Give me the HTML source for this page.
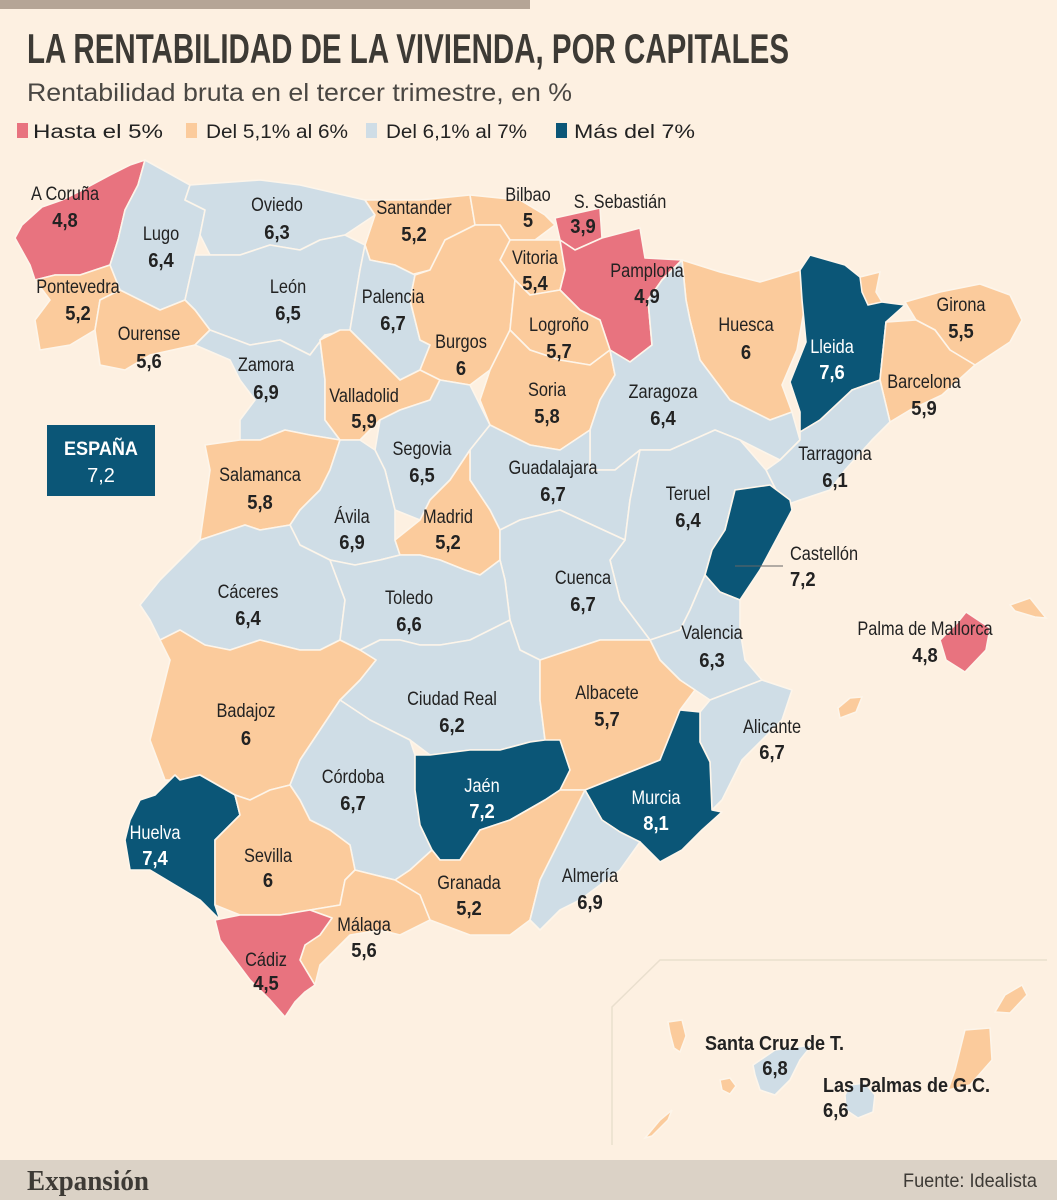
<!DOCTYPE html>
<html><head><meta charset="utf-8">
<style>
html,body{margin:0;padding:0;background:#fdf0e1;}
svg{display:block;}
.nm{font-family:"Liberation Sans Narrow","Liberation Sans",sans-serif;font-size:19px;fill:#222;}
.vl{font-family:"Liberation Sans Narrow","Liberation Sans",sans-serif;font-size:20px;font-weight:bold;fill:#222;}
</style></head>
<body>
<svg id="chart" width="1057" height="1200" viewBox="0 0 1057 1200" xmlns="http://www.w3.org/2000/svg">
<rect x="0" y="0" width="1057" height="1200" fill="#fdf0e1"/>
<rect x="0" y="0" width="530" height="9" fill="#b5a596"/>
<text x="27" y="63" textLength="762" lengthAdjust="spacingAndGlyphs" font-family="'Liberation Sans Narrow','Liberation Sans',sans-serif" font-weight="bold" font-size="42" fill="#3d3a35">LA RENTABILIDAD DE LA VIVIENDA, POR CAPITALES</text>
<text x="27" y="101" textLength="545" lengthAdjust="spacingAndGlyphs" font-family="'Liberation Sans Narrow','Liberation Sans',sans-serif" font-size="25" fill="#4a4743">Rentabilidad bruta en el tercer trimestre, en %</text>
<g id="legend"></g>
<g id="map"></g>
<g id="labels"></g>
<path d="M612,1145 L612,1007 L660,960 L1047,960" fill="none" stroke="#eadfce" stroke-width="1.5"/>
<rect x="47" y="425" width="108" height="71" fill="#0b5677"/>
<text x="101" y="455" text-anchor="middle" textLength="74" lengthAdjust="spacingAndGlyphs" font-family="'Liberation Sans Narrow','Liberation Sans',sans-serif" font-weight="bold" font-size="19" fill="#fff">ESPAÑA</text>
<text x="101" y="482" text-anchor="middle" font-family="'Liberation Sans Narrow','Liberation Sans',sans-serif" font-size="20" fill="#fff">7,2</text>
<line x1="735" y1="566" x2="783" y2="566" stroke="#666" stroke-width="1"/>
<rect x="0" y="1160" width="1057" height="40" fill="#dbd2c6"/>
<text x="27" y="1190" textLength="122" lengthAdjust="spacingAndGlyphs" font-family="'Liberation Serif',serif" font-weight="bold" font-size="28" fill="#3d3a35">Expansión</text>
<text x="1037" y="1187" text-anchor="end" textLength="134" lengthAdjust="spacingAndGlyphs" font-family="'Liberation Sans Narrow','Liberation Sans',sans-serif" font-size="19" fill="#3d3a35">Fuente: Idealista</text>
</svg>
<script>
const categories = ["A Coruña","Lugo","Oviedo","Santander","Bilbao","S. Sebastián","Vitoria","Pamplona","Pontevedra","León","Palencia","Ourense","Burgos","Logroño","Huesca","Lleida","Girona","Zamora","Barcelona","Valladolid","Soria","Zaragoza","Segovia","Guadalajara","Salamanca","Tarragona","Teruel","Ávila","Madrid","Castellón","Cuenca","Cáceres","Toledo","Valencia","Palma de Mallorca","Ciudad Real","Albacete","Alicante","Badajoz","Córdoba","Jaén","Murcia","Huelva","Sevilla","Granada","Almería","Málaga","Cádiz","Santa Cruz de T.","Las Palmas de G.C."];
const values = [4.8,6.4,6.3,5.2,5,3.9,5.4,4.9,5.2,6.5,6.7,5.6,6,5.7,6,7.6,5.5,6.9,5.9,5.9,5.8,6.4,6.5,6.7,5.8,6.1,6.4,6.9,5.2,7.2,6.7,6.4,6.6,6.3,4.8,6.2,5.7,6.7,6,6.7,7.2,8.1,7.4,6,5.2,6.9,5.6,4.5,6.8,6.6];
const legendLabels = ["Hasta el 5%","Del 5,1% al 6%","Del 6,1% al 7%","Más del 7%"];
const thresholds = [4.95,6,7];
const palette = ["#e8737f","#fbcb9c","#cfdde6","#0b5677"];

function colorIdx(v){let i=0;while(i<thresholds.length&&v>thresholds[i]+1e-9)i++;return i;}
function fmt(v){return String(v).replace('.',',');}

const shapes = {
"A Coruña":[[145,160],[138,185],[125,210],[118,240],[110,265],[80,275],[55,275],[35,280],[30,265],[15,238],[22,225],[42,207],[62,200],[82,190],[110,175],[130,165]],
"Lugo":[[145,160],[190,185],[185,200],[205,210],[200,235],[195,255],[185,300],[160,310],[120,290],[110,265],[118,240],[125,210],[138,185]],
"Pontevedra":[[35,280],[55,275],[80,275],[110,265],[120,290],[100,300],[95,330],[70,345],[40,350],[35,320],[50,300]],
"Ourense":[[120,290],[160,310],[185,300],[195,310],[210,330],[195,345],[150,355],[125,370],[100,365],[95,330],[100,300]],
"Oviedo":[[190,185],[260,180],[300,185],[365,200],[375,215],[345,235],[320,240],[300,250],[270,245],[240,255],[210,255],[200,235],[205,210],[185,200]],
"León":[[210,255],[240,255],[270,245],[300,250],[320,240],[345,235],[365,245],[360,270],[355,300],[350,330],[325,335],[310,355],[280,340],[250,345],[210,330],[195,310],[185,300],[195,255]],
"Santander":[[365,200],[420,200],[470,195],[475,225],[445,240],[430,270],[410,275],[395,265],[370,260],[365,245],[375,215]],
"Palencia":[[370,260],[395,265],[415,275],[410,300],[420,340],[430,345],[420,370],[400,380],[380,360],[360,340],[350,330],[355,300],[360,270],[365,245]],
"Burgos":[[430,270],[445,240],[475,225],[500,225],[510,240],[500,260],[515,280],[510,330],[490,370],[470,385],[440,380],[420,370],[430,345],[420,340],[410,300],[415,275]],
"Bilbao":[[470,195],[520,200],[545,215],[555,225],[535,240],[510,240],[500,225],[475,225]],
"S. Sebastián":[[555,218],[600,208],[602,238],[575,250],[560,240]],
"Vitoria":[[510,240],[535,240],[560,240],[565,270],[560,290],[530,295],[515,280],[500,260]],
"Pamplona":[[560,240],[575,250],[602,238],[640,228],[645,258],[682,260],[662,280],[648,300],[652,345],[630,362],[610,350],[600,320],[580,310],[560,290],[565,270]],
"Logroño":[[515,280],[530,295],[560,290],[580,310],[600,320],[610,350],[590,365],[560,360],[530,350],[510,330]],
"Soria":[[490,370],[510,330],[530,350],[560,360],[590,365],[610,350],[615,375],[600,400],[590,430],[560,450],[530,445],[490,425],[480,400]],
"Zaragoza":[[610,350],[630,362],[652,345],[648,300],[662,280],[682,260],[686,300],[690,320],[700,360],[730,400],[770,420],[792,412],[800,440],[780,460],[740,440],[715,430],[670,450],[640,450],[615,470],[590,470],[590,430],[600,400],[615,375]],
"Huesca":[[682,260],[720,272],[760,282],[800,270],[806,300],[797,350],[782,385],[792,412],[770,420],[730,400],[700,360],[690,320],[686,300]],
"Lleida":[[810,255],[845,265],[860,277],[880,272],[876,292],[882,302],[905,305],[886,322],[882,360],[880,380],[852,390],[830,415],[820,420],[800,432],[800,412],[790,382],[806,342],[802,300],[800,270]],
"Girona":[[905,302],[940,292],[980,284],[1010,295],[1022,320],[1010,342],[975,365],[950,350],[935,330],[916,320]],
"Barcelona":[[886,322],[916,320],[935,330],[950,350],[975,365],[942,395],[910,410],[890,422],[880,380],[882,360]],
"Tarragona":[[820,420],[852,390],[880,380],[890,422],[872,440],[845,470],[830,490],[800,500],[772,510],[776,490],[766,470],[780,460],[800,440],[800,432]],
"Castellón":[[735,490],[770,485],[790,500],[792,510],[776,540],[760,570],[740,600],[720,592],[705,575],[712,550],[725,530],[730,510]],
"Valencia":[[705,575],[720,592],[740,600],[740,630],[745,660],[762,680],[736,690],[710,700],[695,690],[680,680],[660,660],[650,640],[680,630],[690,610]],
"Alicante":[[762,680],[792,690],[782,720],[742,760],[722,800],[712,810],[710,762],[700,742],[700,712],[710,700],[736,690]],
"Murcia":[[680,710],[700,712],[700,742],[710,762],[712,810],[722,812],[702,830],[682,850],[660,862],[640,842],[620,832],[602,820],[585,790],[610,780],[635,770],[660,760]],
"Albacete":[[540,660],[600,640],[650,640],[660,660],[680,680],[695,690],[680,710],[660,760],[635,770],[610,780],[585,790],[560,790],[560,760],[545,740],[540,700]],
"Teruel":[[640,450],[670,450],[715,430],[740,440],[766,470],[776,490],[770,485],[735,490],[730,510],[725,530],[712,550],[705,575],[690,610],[680,630],[650,640],[620,600],[610,560],[625,540],[630,500]],
"Guadalajara":[[490,425],[530,445],[560,450],[590,430],[590,470],[615,470],[640,450],[630,500],[625,540],[560,510],[520,520],[500,530],[490,510],[470,480],[470,450]],
"Cuenca":[[520,520],[560,510],[625,540],[610,560],[620,600],[650,640],[600,640],[540,660],[520,650],[510,620],[505,580],[500,560],[500,530]],
"Madrid":[[450,480],[470,450],[470,480],[490,510],[500,530],[500,560],[480,575],[465,570],[440,560],[420,555],[400,555],[395,540],[420,520],[430,500]],
"Segovia":[[380,420],[400,410],[430,400],[440,380],[470,385],[490,425],[470,450],[450,480],[430,500],[420,520],[395,510],[385,470],[375,450]],
"Valladolid":[[320,340],[340,330],[350,330],[360,340],[380,360],[400,380],[420,370],[440,380],[430,400],[400,410],[380,420],[360,440],[340,440],[325,420],[325,380]],
"Zamora":[[210,330],[250,345],[280,340],[310,355],[325,335],[320,340],[325,380],[325,420],[340,440],[310,435],[285,430],[260,440],[240,440],[240,420],[255,400],[240,380],[230,360],[195,345]],
"Salamanca":[[205,445],[240,440],[260,440],[285,430],[310,435],[340,440],[330,470],[320,490],[300,510],[290,525],[260,530],[245,525],[200,540],[205,505],[210,470]],
"Ávila":[[340,440],[360,440],[375,450],[385,470],[395,510],[395,540],[400,555],[380,560],[355,565],[330,560],[300,545],[290,525],[300,510],[320,490],[330,470]],
"Cáceres":[[200,540],[245,525],[260,530],[290,525],[300,545],[330,560],[345,600],[340,640],[320,650],[300,650],[260,640],[230,650],[205,645],[180,630],[160,640],[150,620],[140,605],[160,580],[185,555]],
"Toledo":[[330,560],[355,565],[380,560],[400,555],[420,555],[440,560],[465,570],[480,575],[500,560],[505,580],[510,620],[490,630],[470,640],[440,645],[420,645],[400,640],[380,640],[360,650],[340,640],[345,600]],
"Badajoz":[[160,640],[180,630],[205,645],[230,650],[260,640],[300,650],[320,650],[340,640],[360,650],[376,660],[360,680],[340,700],[320,730],[300,760],[290,785],[270,790],[250,800],[235,795],[200,775],[180,780],[165,780],[150,740],[160,700],[170,660]],
"Ciudad Real":[[360,650],[380,640],[400,640],[420,645],[440,645],[470,640],[490,630],[510,620],[520,650],[540,660],[540,700],[545,740],[530,742],[500,750],[470,750],[430,755],[410,740],[390,730],[370,720],[340,700],[360,680],[376,660]],
"Córdoba":[[290,785],[300,760],[320,730],[340,700],[370,720],[390,730],[410,740],[415,755],[415,790],[420,825],[432,850],[410,870],[395,880],[375,875],[355,870],[350,845],[330,830],[310,820],[300,800]],
"Jaén":[[415,755],[430,755],[470,750],[500,750],[530,742],[545,740],[560,740],[570,770],[560,790],[545,800],[510,820],[480,830],[460,860],[440,860],[432,850],[420,825],[415,790]],
"Huelva":[[175,775],[180,780],[200,775],[235,795],[240,815],[225,830],[215,840],[215,880],[215,905],[220,920],[200,900],[175,885],[150,870],[130,870],[125,840],[130,820],[140,800],[155,795]],
"Sevilla":[[235,795],[250,800],[270,790],[290,785],[300,800],[310,820],[330,830],[350,845],[355,870],[345,880],[340,905],[310,910],[280,915],[240,915],[215,905],[215,880],[215,840],[225,830],[240,815]],
"Cádiz":[[215,920],[240,915],[280,915],[310,910],[332,918],[320,935],[305,945],[300,960],[315,985],[305,992],[295,1002],[285,1017],[270,1000],[250,980],[235,960],[220,940]],
"Málaga":[[310,910],[340,905],[345,880],[355,870],[375,875],[395,880],[420,895],[430,920],[400,935],[380,930],[350,935],[320,965],[315,985],[300,960],[305,945],[320,935],[332,918]],
"Granada":[[420,895],[395,880],[410,870],[432,850],[440,860],[460,860],[480,830],[510,820],[545,800],[560,790],[585,790],[570,820],[555,850],[540,880],[530,920],[510,935],[470,935],[430,920]],
"Almería":[[585,790],[602,820],[620,832],[640,842],[620,870],[600,885],[580,900],[560,910],[540,930],[530,920],[540,880],[555,850],[570,820]],
"Palma de Mallorca":[[940,640],[958,622],[966,612],[990,628],[986,650],[965,672],[946,660]],
"Santa Cruz de T.":[[753,1065],[775,1050],[812,1045],[800,1060],[790,1080],[775,1095],[760,1090],[755,1075]],
"Las Palmas de G.C.":[[850,1085],[865,1083],[875,1095],[873,1112],[858,1118],[846,1110],[845,1095]]
};
const extraShapes = [
 {n:"menorca-island",c:1,p:[[1010,605],[1030,598],[1046,618],[1035,617],[1015,611]]},
 {n:"ibiza-island",c:1,p:[[838,708],[850,698],[862,697],[856,712],[840,718]]},
 {n:"aran-area",c:1,p:[[860,277],[880,272],[876,292],[882,302],[868,305],[862,292]]},
 {n:"la-palma-island",c:1,p:[[668,1022],[682,1020],[686,1036],[680,1052],[674,1048],[670,1033]]},
 {n:"la-gomera-island",c:1,p:[[720,1080],[730,1078],[736,1086],[730,1094],[722,1090]]},
 {n:"el-hierro-island",c:1,p:[[645,1138],[660,1120],[672,1110],[668,1120],[652,1136]]},
 {n:"fuerteventura-island",c:1,p:[[965,1030],[990,1028],[992,1060],[970,1085],[948,1090],[955,1070]]},
 {n:"lanzarote-island",c:1,p:[[995,1012],[1005,995],[1022,985],[1027,995],[1010,1013]]}
];
const labelPos = {
"A Coruña":[65,193,65,220],"Lugo":[161,233,161,260],"Oviedo":[277,204,277,232],"Santander":[414,207,414,234],
"Bilbao":[528,194,528,220],"S. Sebastián":[620,201,583,226],"Vitoria":[535,257,535,283],"Pamplona":[647,270,647,296],
"Pontevedra":[78,286,78,313],"León":[288,286,288,313],"Palencia":[393,296,393,323],"Ourense":[149,333,149,361],
"Burgos":[461,341,461,368],"Logroño":[559,324,559,351],"Huesca":[746,324,746,352],"Lleida":[832,346,832,372],
"Girona":[961,304,961,331],"Zamora":[266,364,266,392],"Barcelona":[924,381,924,408],"Valladolid":[364,395,364,421],
"Soria":[547,389,547,416],"Zaragoza":[663,391,663,418],"Segovia":[422,448,422,475],"Guadalajara":[553,467,553,494],
"Salamanca":[260,474,260,502],"Tarragona":[835,453,835,480],"Teruel":[688,493,688,520],"Ávila":[352,516,352,542],
"Madrid":[448,516,448,542],"Castellón":[828,553,801,579],"Cuenca":[583,577,583,604],"Cáceres":[248,591,248,618],
"Toledo":[409,597,409,624],"Valencia":[712,632,712,660],"Palma de Mallorca":[925,628,925,655],"Ciudad Real":[452,698,452,725],
"Albacete":[607,692,607,719],"Alicante":[772,726,772,752],"Badajoz":[246,710,246,738],"Córdoba":[353,776,353,803],
"Jaén":[482,785,482,811],"Murcia":[656,797,656,823],"Huelva":[155,832,155,858],"Sevilla":[268,855,268,880],
"Granada":[469,882,469,908],"Almería":[590,875,590,902],"Málaga":[364,924,364,950],"Cádiz":[266,959,266,983],
"Santa Cruz de T.":[775,1043,775,1068],"Las Palmas de G.C.":[905,1085,838,1110]
};
const NS="http://www.w3.org/2000/svg";
const slug=s=>s.toLowerCase().normalize('NFD').replace(/[\u0300-\u036f]/g,'').replace(/[^a-z0-9]+/g,'-').replace(/^-|-$/g,'');

// legend
const lg=document.getElementById('legend');
const legSq=[17,186,366,556];
const legTx=[33,206,386,574];
const legW=[130,142,141,121];
legendLabels.forEach((t,i)=>{
  const r=document.createElementNS(NS,'rect');
  r.setAttribute('x',legSq[i]);r.setAttribute('y',123);r.setAttribute('width',11);r.setAttribute('height',15);r.setAttribute('fill',palette[i]);
  
  
  lg.appendChild(r);
  const tx=document.createElementNS(NS,'text');
  tx.setAttribute('x',legTx[i]);tx.setAttribute('y',138);tx.setAttribute('class','nm');tx.setAttribute('font-size','21');
  tx.setAttribute('textLength',legW[i]);tx.setAttribute('lengthAdjust','spacingAndGlyphs');
  tx.textContent=t;
  
  
  lg.appendChild(tx);
});

// map
const mp=document.getElementById('map');
categories.forEach((name,i)=>{
  const p=document.createElementNS(NS,'polygon');
  p.setAttribute('points',shapes[name].map(a=>a.join(',')).join(' '));
  p.setAttribute('fill',palette[colorIdx(values[i])]);
  p.setAttribute('stroke','#fdf5ea');p.setAttribute('stroke-width','1.6');p.setAttribute('stroke-linejoin','round');
  
  
  mp.appendChild(p);
});
extraShapes.forEach(e=>{
  const p=document.createElementNS(NS,'polygon');
  p.setAttribute('points',e.p.map(a=>a.join(',')).join(' '));
  p.setAttribute('fill',palette[e.c]);p.setAttribute('stroke','#fdf5ea');p.setAttribute('stroke-width','1.5');
  
  
  mp.appendChild(p);
});

// labels (horizontally condensed to mimic a narrow typeface)
const lb=document.getElementById('labels');
function addText(x,y,anchor,cls,white,txt,sx){
  const t=document.createElementNS(NS,'text');
  t.setAttribute('x',0);t.setAttribute('y',0);
  t.setAttribute('transform','translate('+x+','+y+') scale('+sx+',1)');
  t.setAttribute('text-anchor',anchor);
  t.setAttribute('class',cls);
  if(white) t.setAttribute('style','fill:#fff');
  t.textContent=txt;
  lb.appendChild(t);
  return t;
}
categories.forEach((name,i)=>{
  const [nx,ny,vx,vy]=labelPos[name];
  const dark=colorIdx(values[i])===3 && name!=="Castellón";
  const canary=name==="Santa Cruz de T."||name==="Las Palmas de G.C.";
  let anchorN='middle',anchorV='middle',xN=nx,xV=vx;
  if(name==="Castellón"){anchorN='start';anchorV='start';xN=790;xV=790;}
  if(name==="Las Palmas de G.C."){anchorN='start';anchorV='start';xN=823;xV=823;}
  if(name==="Santa Cruz de T."){anchorN='start';xN=705;}
  const t1=addText(xN,ny+7,anchorN,canary?'vl':'nm',dark,name,canary?0.9:0.86);
  
  
  const t2=addText(xV,vy+7,anchorV,'vl',dark,fmt(values[i]),0.92);
  
  
});
</script>
</body></html>
